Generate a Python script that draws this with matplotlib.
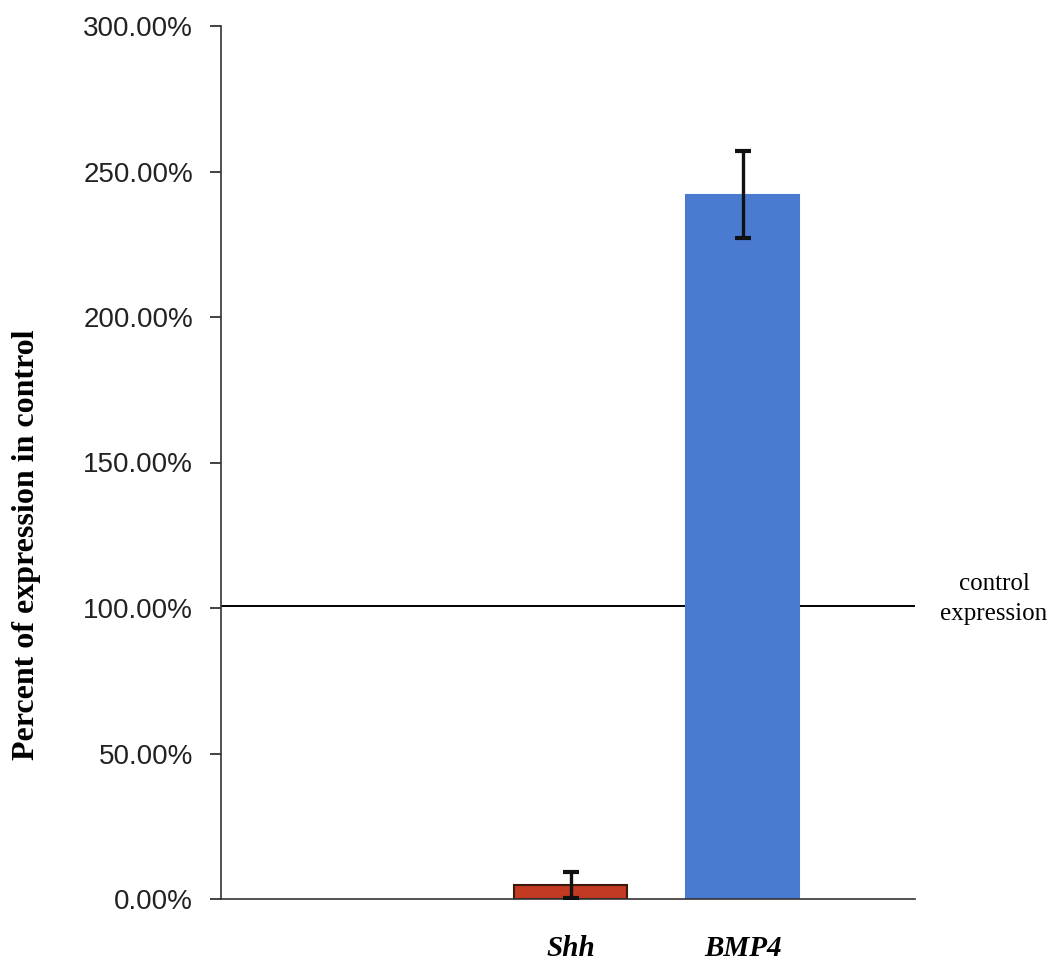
import matplotlib
matplotlib.use("Agg")
import matplotlib.pyplot as plt
from matplotlib.ticker import FuncFormatter

# Expression relative to control (%)
genes = ["Shh", "BMP4"]
values = [4.8, 242.0]
errors = [4.5, 15.0]
bar_colors = ["#c23a22", "#4a7bd0"]
edge_colors = ["#3a1a10", "#4a7bd0"]
control_level = 100.6
yticks = [0, 50, 100, 150, 200, 250, 300]

W, H = 1052, 966
fig = plt.figure(figsize=(W / 100, H / 100), dpi=100)
ax = fig.add_axes([221 / W, 1 - 899 / H, 694 / W, 873 / H])

positions = [1, 2]
ax.bar(positions, values, width=0.655, color=bar_colors, edgecolor=edge_colors,
       linewidth=1.5, zorder=2)
ax.errorbar(positions, values, yerr=errors, fmt="none", ecolor="#111111",
            elinewidth=2.4, capsize=6, capthick=3, zorder=3)

ax.axhline(control_level, color="black", linewidth=1.4, zorder=1)
ax.text(994 / W, 1 - 599 / H, "control\nexpression", transform=fig.transFigure,
        ha="center", va="center", multialignment="center", fontsize=18,
        family="Liberation Serif", linespacing=1.45)

ax.set_xlim(-1.03, 3.0)
ax.set_ylim(0, 300)
ax.set_yticks(yticks)
ax.yaxis.set_major_formatter(FuncFormatter(lambda v, p: f"{v:.2f}%"))
ax.set_xticks(positions)
ax.set_xticklabels(genes, fontsize=21, family="Liberation Serif",
                   fontweight="bold", fontstyle="italic")
ax.tick_params(axis="x", length=0, pad=26)
ax.tick_params(axis="y", direction="out", length=8, width=1.2,
               labelsize=20, pad=12, colors="#222222")
for lbl in ax.get_yticklabels():
    lbl.set_family("Liberation Sans")

for s in ("top", "right"):
    ax.spines[s].set_visible(False)
for s in ("left", "bottom"):
    ax.spines[s].set_linewidth(1.2)
    ax.spines[s].set_color("#333333")

fig.text(27 / W, 1 - 545 / H, "Percent of expression in control", rotation=90,
         ha="center", va="center", fontsize=23, family="Liberation Serif",
         fontweight="bold")

fig.savefig("out.png", dpi=100)
